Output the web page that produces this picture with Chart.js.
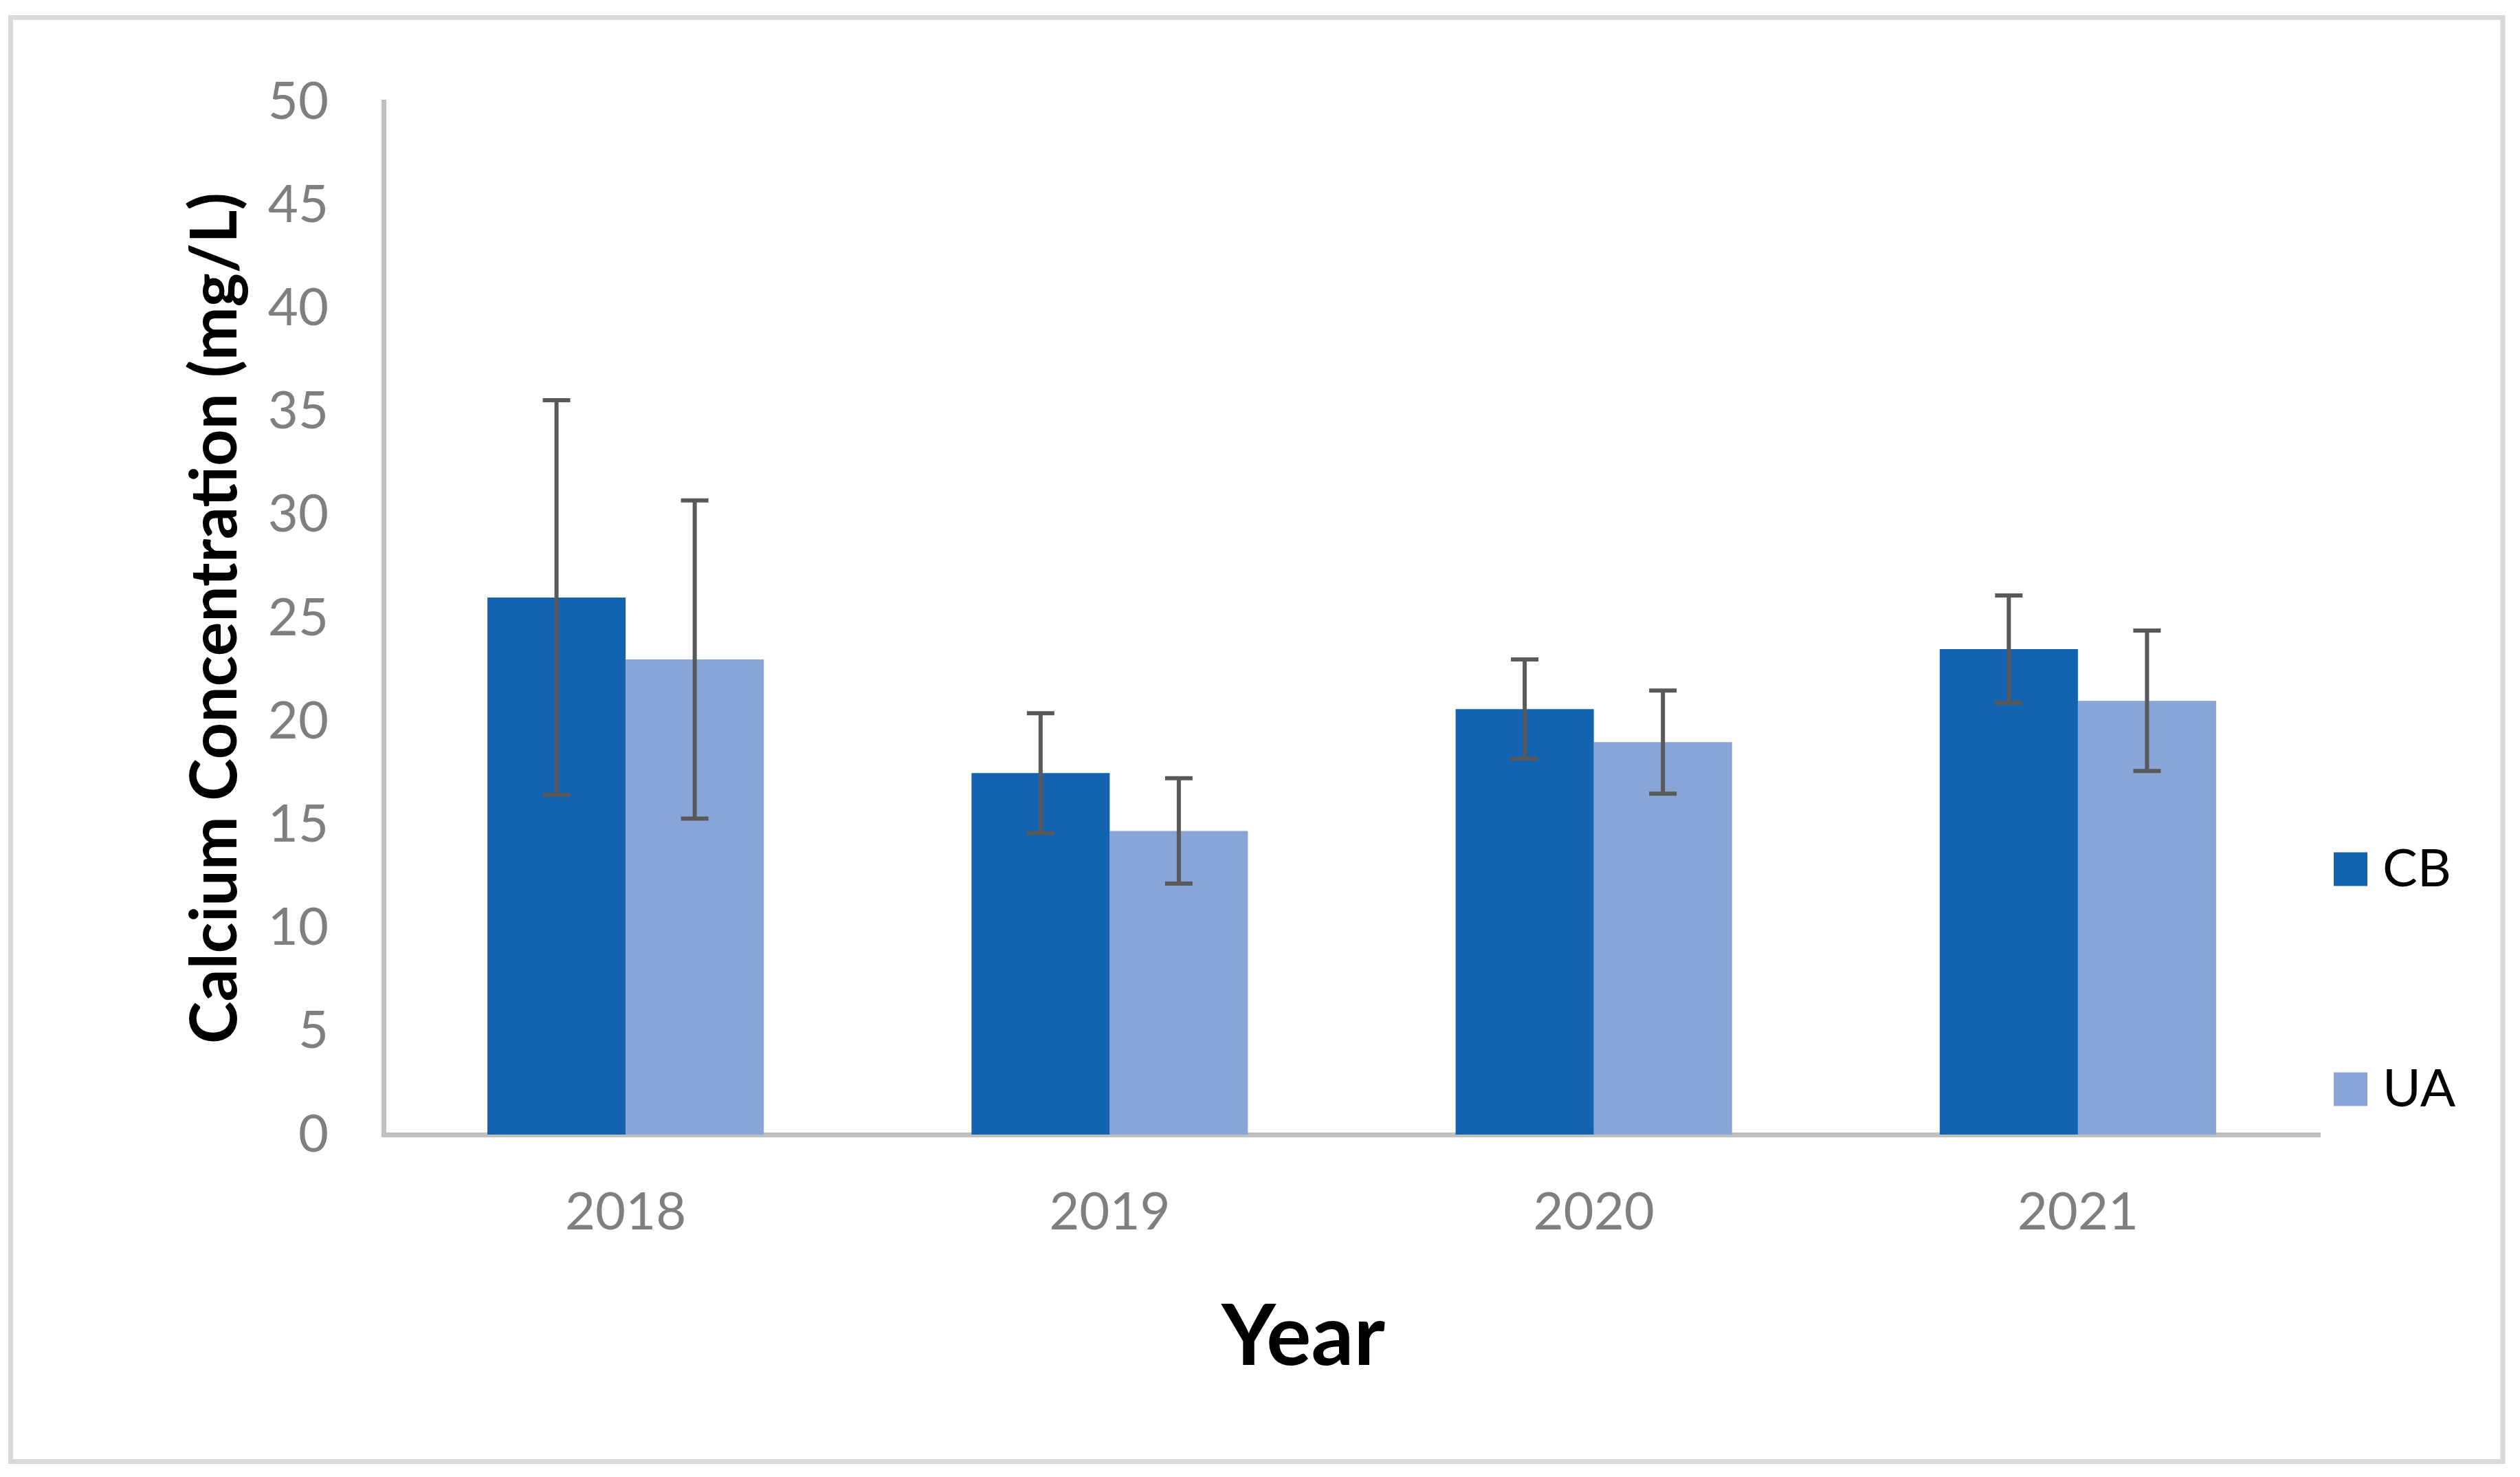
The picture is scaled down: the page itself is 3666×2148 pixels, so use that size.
<!DOCTYPE html>
<html>
<head>
<meta charset="utf-8">
<script src="https://cdn.jsdelivr.net/npm/chart.js@4.4.0/dist/chart.umd.min.js"></script>
<style>
  html, body { margin: 0; padding: 0; background: #fff; }
  canvas { display: block; }
</style>
</head>
<body>
<canvas id="calcium" width="3666" height="2148"></canvas>
<script>
// chart values
const years = ['2018', '2019', '2020', '2021'];
const seriesNames = ['CB', 'UA'];
const cbValues = [26.0, 17.5, 20.6, 23.5];
const uaValues = [23.0, 14.7, 19.0, 21.0];
const cbErrors = [9.55, 2.9, 2.4, 2.6];
const uaErrors = [7.7, 2.55, 2.5, 3.4];
const yTicks = [0, 5, 10, 15, 20, 25, 30, 35, 40, 45, 50];
const xTitle = 'Year';
const yTitle = 'Calcium Concentration (mg/L)';

const errors = [cbErrors, uaErrors];

// white page plus the thin grey frame around the chart
const frame = {
  id: 'frame',
  beforeDraw(chart) {
    const ctx = chart.ctx;
    ctx.save();
    ctx.fillStyle = '#fff';
    ctx.fillRect(0, 0, chart.width, chart.height);
    ctx.strokeStyle = '#D9D9D9';
    ctx.lineWidth = 7;
    ctx.strokeRect(15.5, 25.5, 3625.5, 2100);
    ctx.restore();
  }
};

// error bars on top of each bar
const errorBars = {
  id: 'errorBars',
  afterDatasetsDraw(chart) {
    const ctx = chart.ctx;
    const y = chart.scales.y;
    ctx.save();
    ctx.strokeStyle = '#595959';
    ctx.lineWidth = 6;
    chart.data.datasets.forEach((ds, i) => {
      const meta = chart.getDatasetMeta(i);
      meta.data.forEach((bar, j) => {
        const v = ds.data[j];
        const e = errors[i][j];
        const top = y.getPixelForValue(v + e);
        const bot = y.getPixelForValue(v - e);
        ctx.beginPath();
        ctx.moveTo(bar.x, top);
        ctx.lineTo(bar.x, bot);
        ctx.moveTo(bar.x - 20, top);
        ctx.lineTo(bar.x + 20, top);
        ctx.moveTo(bar.x - 20, bot);
        ctx.lineTo(bar.x + 20, bot);
        ctx.stroke();
      });
    });
    ctx.restore();
  }
};

// legend on the right (items far apart) and the x title, which sits left of centre in the original
const extras = {
  id: 'extras',
  afterDraw(chart) {
    const ctx = chart.ctx;
    const rows = [1264, 1584];
    ctx.save();
    ctx.font = '76px Lato';
    ctx.textBaseline = 'middle';
    ctx.textAlign = 'left';
    chart.data.datasets.forEach((ds, i) => {
      ctx.fillStyle = ds.backgroundColor;
      ctx.fillRect(3395, rows[i] - 24.5, 49, 49);
      ctx.fillStyle = '#000';
      ctx.fillText(ds.label, 3466, rows[i]);
    });
    ctx.font = 'bold 122px Lato';
    ctx.textAlign = 'center';
    ctx.textBaseline = 'alphabetic';
    ctx.fillText(xTitle, 1896, 1985);
    ctx.restore();
  }
};

new Chart(document.getElementById('calcium'), {
  type: 'bar',
  data: {
    labels: years,
    datasets: [
      { label: seriesNames[0], data: cbValues, backgroundColor: '#1264B0' },
      { label: seriesNames[1], data: uaValues, backgroundColor: '#89A5D8' }
    ]
  },
  options: {
    responsive: false,
    animation: false,
    devicePixelRatio: 1,
    layout: { padding: { left: 200, top: 148, right: 291, bottom: 0 } },
    datasets: { bar: { categoryPercentage: 0.571, barPercentage: 1.0 } },
    plugins: {
      legend: { display: false },
      tooltip: { enabled: false }
    },
    scales: {
      x: {
        grid: { display: false, drawTicks: false },
        border: { display: true, color: '#BFBFBF', width: 7 },
        ticks: { color: '#7F7F7F', font: { family: 'Lato', size: 76 }, padding: 68 },
        afterFit(scale) { scale.height = 498; }
      },
      y: {
        min: 0,
        max: 50,
        grid: { display: false, drawTicks: false },
        border: { display: true, color: '#BFBFBF', width: 7 },
        afterBuildTicks(scale) { scale.ticks = yTicks.map(v => ({ value: v })); },
        ticks: { color: '#7F7F7F', font: { family: 'Lato', size: 76 }, padding: 80 },
        title: {
          display: true,
          text: yTitle,
          color: '#000',
          font: { family: 'Lato', size: 93, weight: 'bold' },
          padding: 58
        },
        afterFit(scale) { scale.width = 358; }
      }
    }
  },
  plugins: [frame, errorBars, extras]
});
</script>
</body>
</html>
